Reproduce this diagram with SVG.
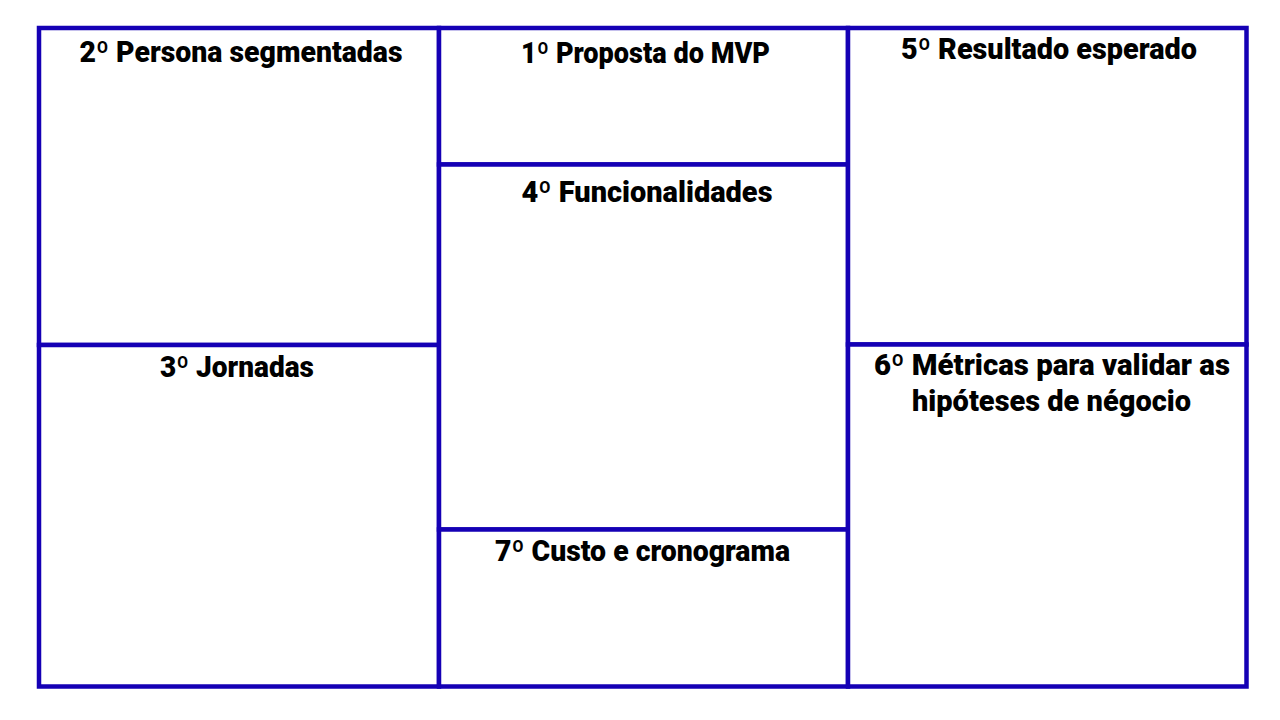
<svg xmlns="http://www.w3.org/2000/svg" width="1280" height="720" viewBox="0 0 1280 720">
  <style>
    .cell { fill: #ffffff; stroke: #1500b5; stroke-width: 4.5; }
    .title { font-family: "Roboto", "Liberation Sans", sans-serif; font-weight: 900; font-size: 29px; fill: #000000; text-anchor: middle; }
  </style>
  <rect x="0" y="0" width="1280" height="720" fill="#ffffff"/>
  <g id="persona">
    <rect class="cell" x="39" y="28" width="400" height="317"/>
    <text class="title" x="241" y="62" textLength="323" lengthAdjust="spacingAndGlyphs">2º Persona segmentadas</text>
  </g>
  <g id="jornadas">
    <rect class="cell" x="39" y="345" width="400" height="341.5"/>
    <text class="title" x="237" y="377" textLength="154" lengthAdjust="spacingAndGlyphs">3º Jornadas</text>
  </g>
  <g id="proposta">
    <rect class="cell" x="439" y="28" width="409" height="136.5"/>
    <text class="title" x="645.5" y="63" textLength="249" lengthAdjust="spacingAndGlyphs">1º Proposta do MVP</text>
  </g>
  <g id="funcionalidades">
    <rect class="cell" x="439" y="164.5" width="409" height="365"/>
    <text class="title" x="647" y="202" textLength="251" lengthAdjust="spacingAndGlyphs">4º Funcionalidades</text>
  </g>
  <g id="custo">
    <rect class="cell" x="439" y="529.5" width="409" height="157"/>
    <text class="title" x="642.5" y="561" textLength="295" lengthAdjust="spacingAndGlyphs">7º Custo e cronograma</text>
  </g>
  <g id="resultado">
    <rect class="cell" x="848" y="28" width="398.5" height="316.5"/>
    <text class="title" x="1049" y="59" textLength="296" lengthAdjust="spacingAndGlyphs">5º Resultado esperado</text>
  </g>
  <g id="metricas">
    <rect class="cell" x="848" y="344.5" width="398.5" height="342"/>
    <text class="title" x="1052" y="375" textLength="356" lengthAdjust="spacingAndGlyphs">6º Métricas para validar as</text>
    <text class="title" x="1051.5" y="411" textLength="279" lengthAdjust="spacingAndGlyphs">hipóteses de négocio</text>
  </g>
  <g id="connectors"></g>
</svg>
